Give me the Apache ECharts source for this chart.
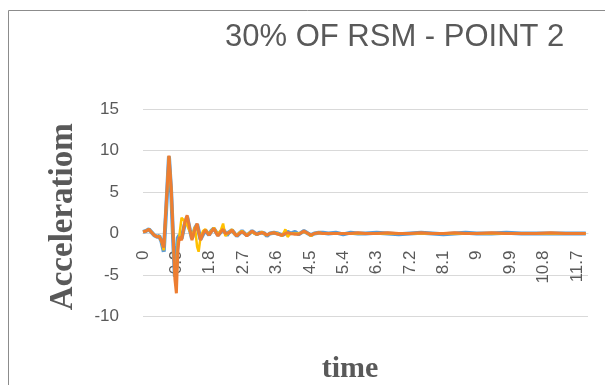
<!DOCTYPE html>
<html>
<head>
<meta charset="utf-8">
<script src="https://cdn.jsdelivr.net/npm/echarts@6/dist/echarts.min.js"></script>
<style>html,body{margin:0;padding:0;background:#fff;}#c{width:605px;height:385px;}</style>
</head>
<body>
<div id="c"></div>
<script>
var titleText = "30% OF RSM - POINT 2";
var xName = "time";
var yName = "Acceleratiom";
var yTicks = [-10, -5, 0, 5, 10, 15];
var xTickStep = 0.9;
var time = [0.00,0.08,0.16,0.24,0.30,0.38,0.44,0.50,0.56,0.62,0.70,0.76,0.82,0.86,0.90,0.94,0.98,1.04,1.12,1.19,1.26,1.32,1.40,1.46,1.50,1.55,1.62,1.68,1.78,1.84,1.91,2.02,2.10,2.16,2.22,2.26,2.33,2.40,2.47,2.53,2.60,2.67,2.74,2.80,2.87,2.94,3.00,3.07,3.14,3.21,3.28,3.34,3.42,3.53,3.64,3.75,3.84,3.90,3.98,4.10,4.20,4.27,4.34,4.45,4.53,4.62,4.74,4.85,5.00,5.20,5.40,5.60,5.80,6.00,6.30,6.60,6.90,7.20,7.50,7.80,8.10,8.40,8.70,9.00,9.40,9.80,10.2,10.6,11.0,11.4,11.8,11.94];
var blue = [0.2,0.3,0.5,0.1,-0.2,-0.4,-0.3,-1.0,-2.2,2.5,9.3,5.0,-1.5,-5.2,-4.0,-0.5,-0.2,-0.6,1.0,2.0,0.5,-0.6,0.6,1.1,0.3,-0.7,-0.1,0.4,-0.2,0.3,0.6,-0.2,0.2,0.5,0.1,-0.2,0.2,0.4,0.0,-0.3,0.0,0.3,0.0,-0.2,0.0,0.3,0.1,-0.1,0.1,0.1,0.0,-0.3,0.0,0.1,0.0,-0.2,0.0,0.2,0.0,0.2,-0.1,0.1,0.3,0.0,-0.2,0.0,0.1,0.1,0.0,0.1,-0.1,0.1,0.0,0.0,0.1,0.0,-0.1,0.0,0.1,0.0,-0.1,0.0,0.1,0.0,0.0,0.1,0.0,0.0,0.0,0.0,0.0,0.0];
var yellow = [0.2,0.3,0.5,0.1,-0.2,-0.4,-0.3,-1.0,-2.0,2.8,9.3,5.2,-1.2,-5.0,-6.0,-1.0,-0.3,1.9,1.5,1.0,0.3,-0.5,0.8,-1.6,-2.2,-0.5,0.3,0.5,-0.1,0.3,0.7,-0.1,0.4,1.2,-0.3,-0.3,0.2,0.5,-0.1,-0.2,0.1,0.3,0.0,-0.2,0.1,0.2,0.0,-0.1,0.0,0.2,-0.1,-0.2,0.0,0.1,0.0,-0.3,0.5,-0.4,0.0,0.0,0.0,0.1,0.2,0.0,-0.3,0.0,0.1,0.0,0.0,0.0,0.0,0.0,0.0,0.0,0.0,0.0,0.0,0.0,0.0,0.0,0.0,0.0,0.0,0.0,0.0,0.0,0.0,0.0,0.0,0.0,0.0,0.0];
var orange = [0.2,0.3,0.5,0.1,-0.2,-0.4,-0.4,-0.9,-1.7,3.0,9.4,5.5,-1.0,-5.5,-7.2,-2.0,-0.4,-0.8,1.2,2.2,0.6,-0.8,0.5,1.2,0.2,-0.8,0.0,0.4,-0.2,0.2,0.6,-0.3,0.2,0.5,0.0,-0.2,0.1,0.4,0.0,-0.3,0.0,0.2,0.0,-0.3,0.0,0.3,0.1,-0.1,0.0,0.1,0.0,-0.2,0.0,0.1,-0.1,-0.2,0.0,0.1,0.0,-0.1,-0.1,0.1,0.3,0.0,-0.2,0.0,0.1,0.0,0.0,0.0,0.0,0.0,0.1,0.0,0.0,0.1,0.0,0.0,0.1,0.0,0.0,0.1,0.0,0.0,0.1,0.0,0.0,0.0,0.1,0.0,0.0,0.0];

function pairs(vals){ return time.map(function(t,i){ return [t, vals[i]]; }); }

var gridTop = 109, gridBottom = 68.5, chartH = 385;
var plotH = chartH - gridTop - gridBottom;
var zeroOffset = -plotH * (0 - yTicks[0]) / (yTicks[yTicks.length-1] - yTicks[0]);

var chart = echarts.init(document.getElementById('c'), null, {renderer:'canvas'});
chart.setOption({
  animation: false,
  backgroundColor: '#ffffff',
  title: {
    text: titleText, left: 220, top: 17,
    textStyle: {fontFamily: 'Liberation Sans', fontSize: 31, fontWeight: 'normal', color: '#595959'}
  },
  grid: {left: 143, right: 17, top: gridTop, bottom: gridBottom, containLabel: false},
  xAxis: {
    type: 'value', min: 0, max: 12, interval: xTickStep, position: 'bottom', offset: zeroOffset,
    axisLine: {show: true, onZero: false, lineStyle: {color: '#D9D9D9', width: 1}},
    axisTick: {show: false},
    splitLine: {show: false},
    axisLabel: {
      rotate: 90, margin: 17, color: '#595959', fontFamily: 'Liberation Sans', fontSize: 17,
      formatter: function(v){ if (Math.abs(v - 12) < 1e-6) return ''; return String(Math.round(v*10)/10); }
    }
  },
  yAxis: {
    type: 'value', min: yTicks[0], max: yTicks[yTicks.length-1], interval: 5,
    axisLine: {show: false, onZero: false}, axisTick: {show: false},
    splitLine: {show: true, lineStyle: {color: '#D9D9D9', width: 1}},
    axisLabel: {margin: 24, color: '#595959', fontFamily: 'Liberation Sans', fontSize: 17}
  },
  series: [
    {type: 'line', data: pairs(blue), showSymbol: false, symbol: 'none', lineStyle: {color: '#5B9BD5', width: 4}, itemStyle:{color:'#5B9BD5'}, z: 2},
    {type: 'line', data: pairs(yellow), showSymbol: false, symbol: 'none', lineStyle: {color: '#FFC000', width: 2.5}, itemStyle:{color:'#FFC000'}, z: 3},
    {type: 'line', data: pairs(orange), showSymbol: false, symbol: 'none', lineStyle: {color: '#ED7D31', width: 3}, itemStyle:{color:'#ED7D31'}, z: 4}
  ],
  graphic: [
    {type: 'rect', silent: true, z: -1, shape: {x: 8.5, y: 10.5, width: 700, height: 500}, style: {fill: null, stroke: '#8C8C8C', lineWidth: 1}},
    {type: 'text', x: 63.5, y: 216.7, rotation: Math.PI/2, style: {text: yName, font: 'bold 33px "Liberation Serif"', fill: '#595959', align: 'center', verticalAlign: 'middle'}},
    {type: 'text', x: 350, y: 369, style: {text: xName, font: 'bold 30px "Liberation Serif"', fill: '#595959', align: 'center', verticalAlign: 'middle'}}
  ]
});
</script>
</body>
</html>
